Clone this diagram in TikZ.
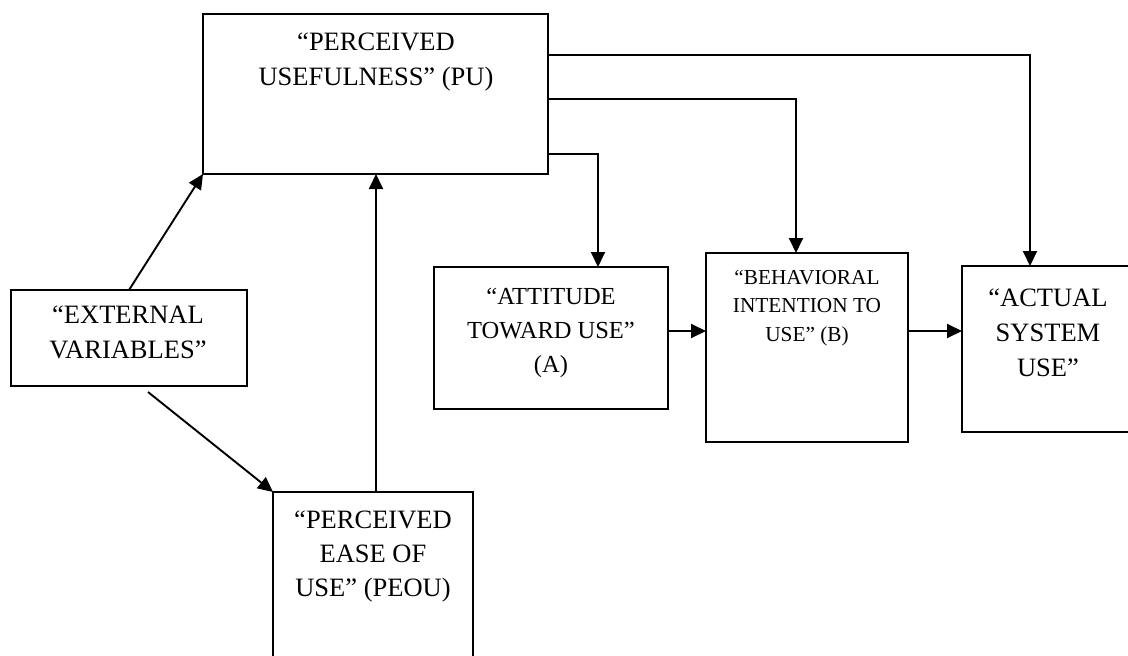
\documentclass[tikz,border=0pt]{standalone}
\usepackage{fontspec}
\setmainfont{Liberation Serif}
\usetikzlibrary{arrows.meta,calc}
\tikzset{
  box/.style={draw, line width=1.9pt, anchor=north west, inner sep=0pt, outer sep=0pt},
  txt/.style={anchor=north, align=center, inner sep=0pt, font=\fontsize{26.5}{35}\selectfont},
  stxt/.style={anchor=north, align=center, inner sep=0pt, font=\fontsize{21.3}{28.5}\selectfont},
  arr/.style={line width=1.9pt, -{Triangle[length=15pt,width=14pt]}},
}
\begin{document}
\begin{tikzpicture}[x=1pt,y=-1pt]
\useasboundingbox (0,0) rectangle (1128,656);
\fill[white] (0,0) rectangle (1128,656);
\clip (0,0) rectangle (1128,656);
% boxes
\node[box, minimum width=345pt, minimum height=160pt] (pu) at (203,14) {};
\node[box, minimum width=236pt, minimum height=96pt] (ext) at (11,290) {};
\node[box, minimum width=200pt, minimum height=190pt] (peou) at (273,492) {};
\node[box, minimum width=234pt, minimum height=142pt] (att) at (434,267) {};
\node[box, minimum width=202pt, minimum height=189pt] (beh) at (706,253) {};
\node[box, minimum width=180pt, minimum height=166pt] (act) at (962,266) {};
% texts
\node[txt] (putext) at ($(pu.north)+(0.5,19)$) {“PERCEIVED\\USEFULNESS” (PU)};
\node[txt] (exttext) at ($(ext.north)+(-1,16)$) {“EXTERNAL\\VARIABLES”};
\node[txt, font=\fontsize{26.5}{34}\selectfont] (peoutext) at ($(peou.north)+(0,19)$) {“PERCEIVED\\EASE OF\\USE” (PEOU)};
\node[txt, font=\fontsize{24.5}{34}\selectfont] (atttext) at ($(att.north)+(0,21)$) {“ATTITUDE\\TOWARD USE”\\(A)};
\node[stxt] (behtext) at ($(beh.north)+(0,17)$) {“BEHAVIORAL\\INTENTION TO\\USE” (B)};
\node[txt] (acttext) at ($(act.north west)+(86,23)$) {“ACTUAL\\SYSTEM\\USE”};
% connectors
\draw[arr] (ext.north) -- (pu.south west);
\coordinate (eb) at ($(ext.south)+(19,6)$);
\draw[arr] (eb) -- (peou.north west);
\coordinate (pp) at ($(pu.south)+(0.5,0)$);
\draw[arr] (pp |- peou.north) -- (pp);
\coordinate (ab) at ($(att.north east)+(0,64)$);
\draw[arr] (ab) -- (ab -| beh.west);
\coordinate (bc) at ($(beh.north east)+(0,78)$);
\draw[arr] (bc) -- (bc -| act.west);
\draw[arr] ($(pu.north east)+(0,41)$) -| ($(act.north west)+(68,0)$);
\draw[arr] ($(pu.north east)+(0,85)$) -| ($(beh.north west)+(90,0)$);
\draw[arr] ($(pu.north east)+(0,140)$) -| ($(att.north west)+(164,0)$);
\end{tikzpicture}
\end{document}
